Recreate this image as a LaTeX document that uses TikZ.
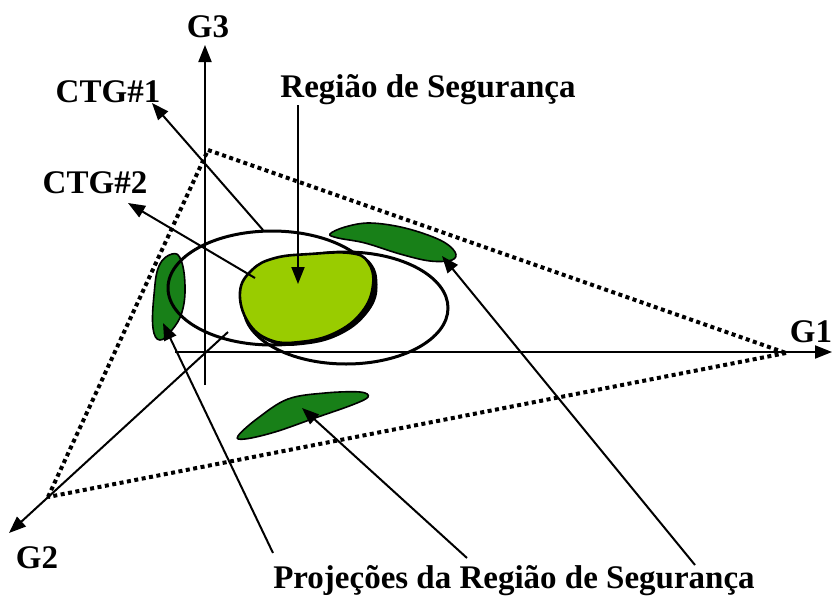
\documentclass[tikz,border=0pt]{standalone}
\usepackage{fontspec}
\setmainfont{Liberation Serif}
\usetikzlibrary{arrows.meta,positioning,calc}
\definecolor{regverde}{RGB}{153,204,0}
\definecolor{projverde}{RGB}{24,128,24}

\begin{document}
\begin{tikzpicture}[x=1pt,y=-1pt,line width=2pt,
  rot/.style={font=\bfseries\fontsize{33}{38}\selectfont,inner sep=0pt,anchor=base},
  seta/.style={-{Triangle[length=17pt,width=13pt]}},
  pontilhado/.style={line width=4pt,dash pattern=on 4pt off 3.5pt},
  contorno/.style={line width=3pt},
  proj/.style={fill=projverde,draw=black,line width=1.6pt}]
\useasboundingbox (0,0) rectangle (833,595);
% triangulo pontilhado
\coordinate (va) at (208,150);\coordinate (vb) at (786,353);\coordinate (vc) at (48,497);
\draw[pontilhado] (va)--(vb);\draw[pontilhado] (vb)--(vc);\draw[pontilhado] (vc)--(va);
% eixos
\coordinate (o3) at (205,385);\coordinate (t3) at (205,45);\draw[seta] (o3)--(t3);
\coordinate (o1) at (175,352);\coordinate (t1) at (832,352);\draw[seta] (o1)--(t1);
\coordinate (o2) at (228,332);\coordinate (t2) at (9,533);\draw[seta] (o2)--(t2);
% projecoes
\draw[proj] plot[smooth cycle,tension=0.7] coordinates {(172,254) (181,260) (185,286) (182,312) (172,330) (160,340) (153,328) (154,295) (159,266)};
\draw[proj] plot[smooth cycle,tension=0.6] coordinates {(330,234) (345,227) (370,223) (405,228) (440,240) (455,252) (452,260) (430,261) (400,254) (365,243) (338,238)};
\draw[proj] plot[smooth cycle,tension=0.6] coordinates {(238,436) (258,418) (288,399) (325,393) (360,392) (368,397) (352,405) (315,418) (275,432) (245,439)};
% contingencias
\draw[contorno] (272,288) ellipse [x radius=104pt,y radius=57pt];
\draw[contorno] (346,308) ellipse [x radius=102pt,y radius=56pt];
% regiao de seguranca
\fill[black] plot[smooth cycle,tension=0.7] coordinates {(242,294) (254,272) (277,260) (312,256) (353,255) (372,264) (377,288) (366,315) (338,336) (302,345) (272,343) (250,325)};
\draw[line width=2.6pt,fill=regverde] plot[smooth cycle,tension=0.7] coordinates {(240,292) (252,270) (275,258) (310,254) (350,253) (368,262) (373,285) (362,312) (335,333) (300,342) (270,340) (248,322)};
% rotulos
\node[rot] (g3) at (208,37) {G3};
\node[rot,anchor=base east] (g1) at (833,342) {G1};
\node[rot] (g2) at (37,568) {G2};
\node[rot] (ctg1) at (108,102) {CTG\#1};
\node[rot] (ctg2) at (95,193) {CTG\#2};
\node[rot] (regiao) at (428,97) {Região de Segurança};
\node[rot] (projecoes) at (514,588) {Projeções da Região de Segurança};
% setas
\coordinate (c1a) at (263,230);\coordinate (c1b) at (152,103);\draw[seta] (c1a)--(c1b);
\coordinate (c2a) at (255,278);\coordinate (c2b) at (128,203);\draw[seta] (c2a)--(c2b);
\coordinate (r0) at (298,105);\coordinate (r1) at (298,284);\draw[seta] (r0)--(r1);
\coordinate (p1) at (273,553);\coordinate (q1) at (163,323);\draw[seta] (p1)--(q1);
\coordinate (p2) at (467,558);\coordinate (q2) at (302,408);\draw[seta] (p2)--(q2);
\coordinate (p3) at (695,565);\coordinate (q3) at (442,256);\draw[seta] (p3)--(q3);
\end{tikzpicture}
\end{document}
